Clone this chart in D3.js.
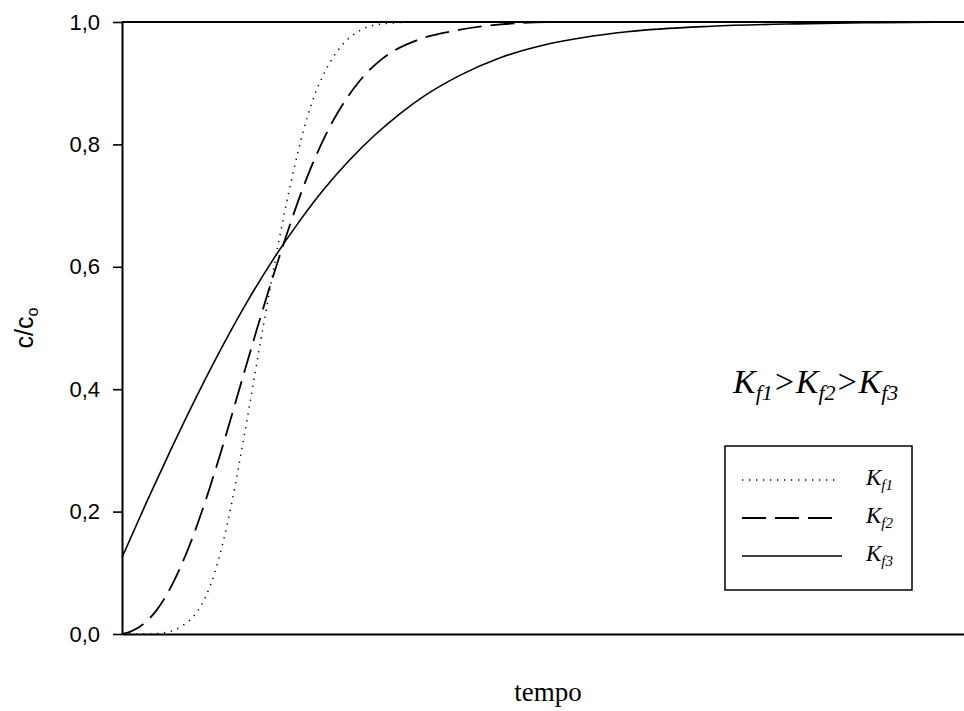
<!DOCTYPE html>
<html>
<head>
<meta charset="utf-8">
<script src="https://cdn.jsdelivr.net/npm/d3@7"></script>
<style>
  html, body { margin: 0; padding: 0; background: #fff; }
  svg { display: block; }
</style>
</head>
<body>
<svg id="chart" width="964" height="711"></svg>
<script>
// Breakthrough curves c/c0 versus time for three film coefficients (Kf1 > Kf2 > Kf3)
const yTicks = [0, 0.2, 0.4, 0.6, 0.8, 1.0];
const seriesNames = ["f1", "f2", "f3"];

const tKf1 = [0, 3, 5, 7, 8, 9, 10, 11, 12, 13, 14, 15, 16, 17, 18, 19, 20, 21, 22, 23, 24, 26, 28, 30, 33, 36, 100];
const cKf1 = [0, 0, 0.002, 0.012, 0.022, 0.038, 0.063, 0.100, 0.150, 0.212, 0.284, 0.362, 0.442, 0.520, 0.596, 0.668, 0.734, 0.793, 0.844, 0.885, 0.916, 0.960, 0.984, 0.995, 0.999, 1.0, 1.0];

const tKf2 = [0, 1, 2, 3, 4, 5, 6, 7, 8, 9, 10, 11, 12, 14, 16, 18, 20, 22, 25, 28, 31, 35, 40, 45, 52, 100];
const cKf2 = [0, 0.004, 0.011, 0.022, 0.037, 0.057, 0.082, 0.111, 0.144, 0.181, 0.221, 0.264, 0.309, 0.403, 0.497, 0.587, 0.671, 0.747, 0.837, 0.900, 0.941, 0.970, 0.987, 0.996, 1.0, 1.0];

const tKf3 = [0, 3, 6, 9, 12, 15, 18, 21, 24, 27, 30, 33, 36, 40, 45, 50, 55, 60, 70, 80, 90, 100];
const cKf3 = [0.125, 0.218, 0.307, 0.392, 0.472, 0.546, 0.613, 0.673, 0.727, 0.774, 0.815, 0.850, 0.880, 0.912, 0.942, 0.962, 0.975, 0.984, 0.993, 0.997, 0.999, 1.0];

const svg = d3.select("#chart");
const plot = { left: 122, right: 964, top: 22, bottom: 634 };

const x = d3.scaleLinear().domain([0, 100]).range([plot.left, plot.right]);
const y = d3.scaleLinear().domain([0, 1]).range([plot.bottom, plot.top]);

// Y axis
const yAxis = d3.axisLeft(y)
  .tickValues(yTicks)
  .tickSize(9)
  .tickSizeOuter(0)
  .tickPadding(13)
  .tickFormat(d => d3.format(".1f")(d).replace(".", ","));

const gy = svg.append("g").attr("transform", `translate(${plot.left},0)`).call(yAxis);
gy.select(".domain").attr("stroke", "#000").attr("stroke-width", 2);
gy.selectAll(".tick line").attr("stroke", "#000").attr("stroke-width", 1.6);
gy.selectAll(".tick text")
  .attr("font-family", "Liberation Sans, Arial, sans-serif")
  .attr("font-size", 22)
  .attr("fill", "#000");

// X axis (no ticks)
const gx = svg.append("g").attr("transform", `translate(0,${plot.bottom})`)
  .call(d3.axisBottom(x).tickValues([]).tickSizeOuter(0));
gx.select(".domain").attr("stroke", "#000").attr("stroke-width", 2);

// Upper reference line at c/c0 = 1
svg.append("line")
  .attr("x1", x(0)).attr("x2", x(100))
  .attr("y1", y(1)).attr("y2", y(1))
  .attr("stroke", "#000").attr("stroke-width", 2);

// Curves
const line = d3.line().x(d => x(d[0])).y(d => y(d[1])).curve(d3.curveMonotoneX);
const styles = {
  f1: { dash: "1.3,5.7", width: 1.5 },
  f2: { dash: "24,9", width: 1.8 },
  f3: { dash: null, width: 1.6 }
};
const series = [
  { key: "f1", pts: d3.zip(tKf1, cKf1) },
  { key: "f2", pts: d3.zip(tKf2, cKf2) },
  { key: "f3", pts: d3.zip(tKf3, cKf3) }
];
series.forEach(s => {
  svg.append("path")
    .attr("d", line(s.pts))
    .attr("fill", "none")
    .attr("stroke", "#000")
    .attr("stroke-width", styles[s.key].width)
    .attr("stroke-dasharray", styles[s.key].dash);
});

// Axis titles
svg.append("text")
  .attr("x", 548).attr("y", 701)
  .attr("text-anchor", "middle")
  .attr("font-family", "Liberation Serif, Times New Roman, serif")
  .attr("font-size", 27)
  .text("tempo");

const yl = svg.append("text")
  .attr("transform", "translate(33,328) rotate(-90)")
  .attr("text-anchor", "middle")
  .attr("font-family", "Liberation Sans, Arial, sans-serif")
  .attr("font-size", 25);
yl.append("tspan").text("c/c");
yl.append("tspan").attr("font-size", 16).attr("dy", 5).text("o");

// Inequality annotation
const ann = svg.append("text")
  .attr("x", 733).attr("y", 393)
  .attr("font-family", "Liberation Serif, Times New Roman, serif")
  .attr("font-style", "italic")
  .attr("font-size", 34);
seriesNames.forEach((n, i) => {
  ann.append("tspan").text("K");
  ann.append("tspan").attr("font-size", 22).attr("dy", 7).text(n);
  if (i < seriesNames.length - 1) ann.append("tspan").attr("dy", -7).text(">");
});

// Legend
const lg = svg.append("g");
lg.append("rect")
  .attr("x", 725).attr("y", 446).attr("width", 187).attr("height", 144)
  .attr("fill", "none").attr("stroke", "#000").attr("stroke-width", 1.5);
const legendRows = [
  { key: "f1", y: 480, x2: 837 },
  { key: "f2", y: 518, x2: 833 },
  { key: "f3", y: 556, x2: 842 }
];
legendRows.forEach(r => {
  lg.append("line")
    .attr("x1", 742).attr("x2", r.x2).attr("y1", r.y).attr("y2", r.y)
    .attr("stroke", "#000")
    .attr("stroke-width", styles[r.key].width)
    .attr("stroke-dasharray", styles[r.key].dash);
  const t = lg.append("text")
    .attr("x", 866).attr("y", r.y + 5)
    .attr("font-family", "Liberation Serif, Times New Roman, serif")
    .attr("font-style", "italic")
    .attr("font-size", 23);
  t.append("tspan").text("K");
  t.append("tspan").attr("font-size", 15).attr("dy", 5).text(r.key);
});
</script>
</body>
</html>
